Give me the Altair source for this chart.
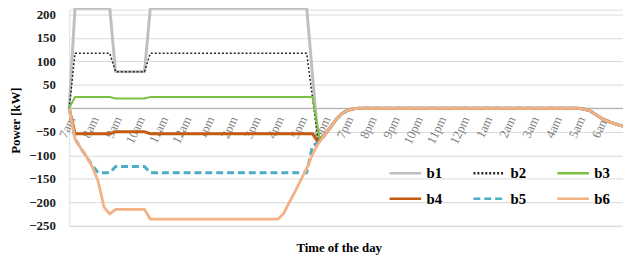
import altair as alt
import pandas as pd

# ---- data (hours after 7am, power in kW) ----
SERIES = ["b1", "b2", "b3", "b4", "b5", "b6"]

b1_hours = [0, 0.25, 1.75, 2.0, 3.25, 3.5, 10.25, 10.75]
b1_values = [0, 213, 213, 78, 78, 213, 213, -73]

b2_hours = [0, 0.25, 1.75, 2.0, 3.25, 3.5, 10.25, 10.75]
b2_values = [0, 117, 117, 78, 78, 117, 117, -73]

b3_hours = [0, 0.25, 1.75, 2.0, 3.25, 3.5, 10.5, 10.8]
b3_values = [0, 24, 24, 21, 21, 24, 24, -62]

b4_hours = [0, 0.25, 1.75, 2.0, 3.25, 3.5, 10.5, 10.75]
b4_values = [0, -54, -54, -50, -50, -54, -54, -73]

b5_hours = [0, 0.25, 0.5, 0.75, 1.0, 1.25, 1.75, 2.0, 3.25, 3.5, 10.25, 10.5, 10.75]
b5_values = [0, -65, -85, -103, -122, -137, -137, -124, -124, -137, -137, -80, -73]

b6_hours = [0, 0.25, 0.5, 0.75, 1.0, 1.25, 1.5, 1.75, 2.0, 3.25, 3.5, 9.0, 9.25,
            9.5, 9.75, 10.0, 10.25, 10.5, 10.75]
b6_values = [0, -65, -85, -103, -125, -155, -210, -225, -215, -215, -236, -236, -224,
             -200, -177, -152, -128, -98, -75]

# shared evening / night part (all series coincide)
tail_hours = [11.0, 11.25, 11.5, 11.75, 12.0, 12.25, 12.5, 22.0, 22.25, 22.5, 22.75,
              23.0, 23.25, 23.5, 23.75, 23.9]
tail_values = [-58, -42, -25, -12, -5, -1, 0, 0, -2, -6, -14, -22, -28, -32, -36, -38]

tick_hours = list(range(24))
tick_labels = ["7am", "8am", "9am", "10am", "11am", "12am", "1pm", "2pm", "3pm", "4pm",
               "5pm", "6pm", "7pm", "8pm", "9pm", "10pm", "11pm", "12pm", "1am", "2am",
               "3am", "4am", "5am", "6am"]
y_tick_values = [-250, -200, -150, -100, -50, 0, 50, 100, 150, 200]

COLORS = ["#bfbfbf", "#262626", "#7cc242", "#c55a11", "#4bacc6", "#f4b183"]
DASHES = [[1, 0], [2, 2], [1, 0], [1, 0], [7, 4], [1, 0]]
WIDTHS = {"b1": 3, "b2": 1.5, "b3": 2, "b4": 3, "b5": 3, "b6": 2.8}

rows = []
for name, hs, vs in [("b1", b1_hours, b1_values), ("b2", b2_hours, b2_values),
                     ("b3", b3_hours, b3_values), ("b4", b4_hours, b4_values),
                     ("b5", b5_hours, b5_values), ("b6", b6_hours, b6_values)]:
    for h, v in zip(hs + tail_hours, vs + tail_values):
        rows.append({"series": name, "hour": h, "power": v})
df = pd.DataFrame(rows)
df["order"] = df["series"].map({s: i for i, s in enumerate(SERIES)})
df["width"] = df["series"].map(WIDTHS)

ticks_df = pd.DataFrame({"hour": tick_hours, "label": tick_labels, "power": 0})
zero_df = pd.DataFrame({"hour": [0], "power": [0]})

FONT = "Liberation Serif"
X_DOMAIN = [0, 23.9]
Y_DOMAIN = [-250, 210]
x_scale = alt.Scale(domain=X_DOMAIN, nice=False, zero=False)
y_scale = alt.Scale(domain=Y_DOMAIN, nice=False)

x_axis = alt.Axis(title="Time of the day", labels=False, ticks=False,
                  domain=False, grid=False, titleFont=FONT,
                  titleFontWeight="bold", titleFontSize=13,
                  titleColor="#000000", titleX=273, titleY=22,
                  titleBaseline="middle", titleAnchor="middle")
y_axis = alt.Axis(title="Power [kW]", values=y_tick_values,
                  labelOverlap=False, labelFlush=False,
                  ticks=False, domain=False, grid=True, gridColor="#d9d9d9",
                  gridWidth=1, labelFont=FONT, labelFontWeight="bold",
                  labelFontSize=13, labelColor="#1a1a1a", labelPadding=14,
                  titleFont=FONT, titleFontWeight="bold", titleFontSize=13,
                  titleColor="#000000", titleX=-54, titleY=112,
                  titleAngle=270, titleBaseline="middle", titleAlign="center")


def xe():
    return alt.X("hour:Q", scale=x_scale, axis=x_axis)


def ye():
    return alt.Y("power:Q", scale=y_scale, axis=y_axis)


lines = alt.Chart(df).mark_line(strokeCap="butt", strokeJoin="round").encode(
    x=xe(), y=ye(),
    color=alt.Color("series:N", scale=alt.Scale(domain=SERIES, range=COLORS),
                    legend=alt.Legend(title=None, orient="none", legendX=323, legendY=148,
                                      columns=3, direction="horizontal",
                                      symbolType="stroke", symbolSize=1024,
                                      symbolStrokeWidth=2.5, labelFont=FONT,
                                      labelFontWeight="bold", labelFontSize=15,
                                      labelColor="#000000", labelOffset=4,
                                      columnPadding=26, rowPadding=0)),
    strokeDash=alt.StrokeDash("series:N", scale=alt.Scale(domain=SERIES, range=DASHES)),
    strokeWidth=alt.StrokeWidth("width:Q", scale=None, legend=None),
    order="order:Q",
    detail="series:N")

zero_rule = alt.Chart(zero_df).mark_rule(color="#a6a6a6", strokeWidth=1).encode(y=ye())

tick_text = alt.Chart(ticks_df).mark_text(
    font=FONT, fontSize=13, color="#7f7f7f", angle=295, align="right",
    baseline="middle", xOffset=3, yOffset=9).encode(
    x=xe(), y=ye(), text="label:N")

chart = alt.layer(zero_rule, tick_text, lines).properties(
    width=561, height=219,
    autosize=alt.AutoSizeParams(type="none"),
    padding={"left": 62, "top": 0, "right": 0, "bottom": 31},
).configure_view(stroke=None).configure_axis(labelOverlap=False).configure(
    background="#ffffff")

chart.save("out.html", embed_options={"renderer": "svg", "actions": False})
